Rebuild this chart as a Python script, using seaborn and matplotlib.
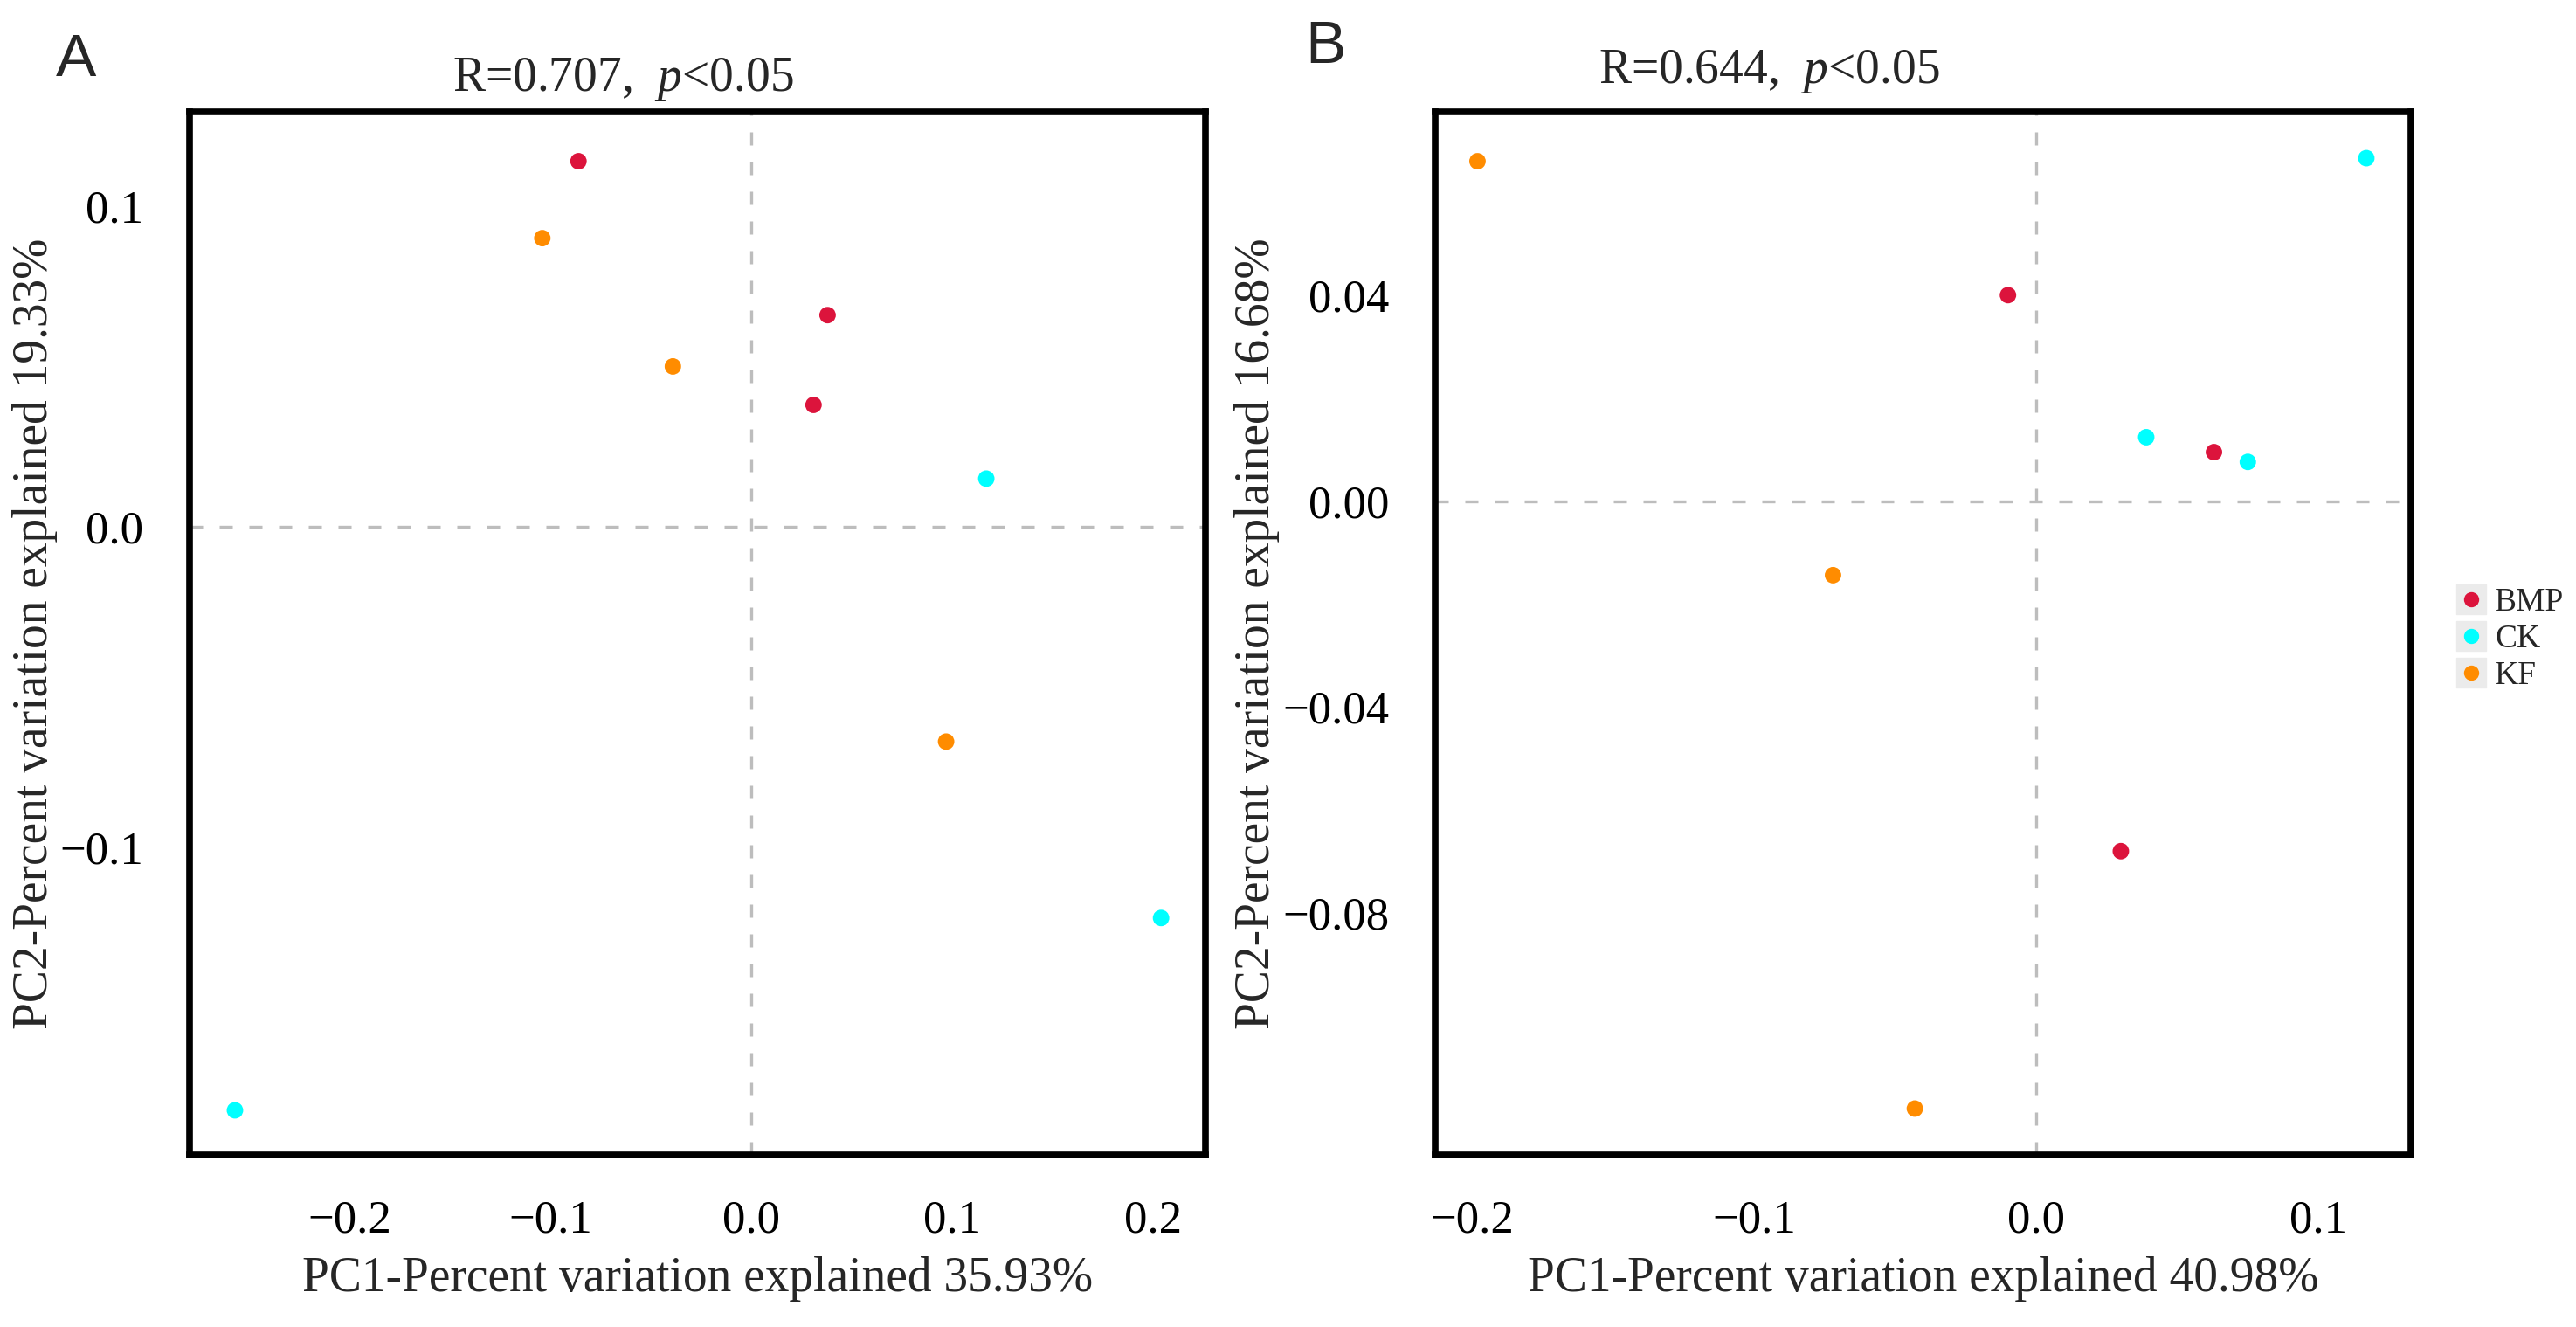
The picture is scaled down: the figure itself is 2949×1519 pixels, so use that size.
import numpy as np
import pandas as pd
import seaborn as sns
import matplotlib.pyplot as plt
from matplotlib.lines import Line2D


sns.set_theme(style='white')
plt.rcParams['font.family'] = ['Liberation Serif', 'DejaVu Serif']
plt.rcParams['mathtext.fontset'] = 'custom'
plt.rcParams['mathtext.rm'] = 'Liberation Serif'
plt.rcParams['mathtext.it'] = 'Liberation Serif:italic'


# groups / colours
groups = ['BMP', 'CK', 'KF']
colors = {'BMP': '#DC143C', 'CK': '#00FFFF', 'KF': '#FF8C00'}

# Panel A (PCoA scores)
a_group = ['BMP', 'BMP', 'BMP', 'CK', 'CK', 'CK', 'KF', 'KF', 'KF']
a_pc1 = [-0.086, 0.038, 0.031, 0.117, 0.204, -0.257, -0.104, -0.039, 0.097]
a_pc2 = [0.114, 0.066, 0.038, 0.015, -0.122, -0.182, 0.090, 0.050, -0.067]

# Panel B (PCoA scores)
b_group = ['BMP', 'BMP', 'BMP', 'CK', 'CK', 'CK', 'KF', 'KF', 'KF']
b_pc1 = [-0.010, 0.063, 0.030, 0.117, 0.039, 0.075, -0.198, -0.072, -0.043]
b_pc2 = [0.040, 0.0095, -0.068, 0.0666, 0.0124, 0.0076, 0.066, -0.0144, -0.118]

dfA = pd.DataFrame({'PC1': a_pc1, 'PC2': a_pc2, 'group': a_group})
dfB = pd.DataFrame({'PC1': b_pc1, 'PC2': b_pc2, 'group': b_group})

a_xticks = [-0.2, -0.1, 0.0, 0.1, 0.2]
a_yticks = [0.1, 0.0, -0.1]
a_yticklabels = ['0.1', '0.0', '\u22120.1']
b_xticks = [-0.2, -0.1, 0.0, 0.1]
b_yticks = [0.04, 0.00, -0.04, -0.08, -0.12]
b_yticklabels = ['0.04', '0.00', '\u22120.04', '\u22120.08', '']


W, H = 2949, 1519
fig = plt.figure(figsize=(W / 100, H / 100), dpi=100)

axA = fig.add_axes([217 / W, 1 - 1322 / H, (1380 - 217) / W, (1322 - 128) / H])
axB = fig.add_axes([1643 / W, 1 - 1322 / H, (2760 - 1643) / W, (1322 - 128) / H])


def panel(ax, data, xlim, ylim, xticks, yticks, yticklabels, xlabel, ylabel):
    ax.axhline(0, color='#BDBDBD', lw=2.4, dashes=(4.5, 5.7), zorder=1)
    ax.axvline(0, color='#BDBDBD', lw=2.4, dashes=(4.5, 5.7), zorder=1)
    sns.scatterplot(data=data, x='PC1', y='PC2', hue='group', hue_order=groups,
                    palette=colors, s=185, linewidth=0, legend=False, ax=ax, zorder=3)
    ax.set_xlim(xlim)
    ax.set_ylim(ylim)
    ax.set_xticks(xticks)
    ax.set_yticks(yticks)
    ax.set_yticklabels(yticklabels)
    ax.set_xlabel(xlabel, fontsize=40, labelpad=12)
    ax.set_ylabel(ylabel, fontsize=40, labelpad=2)
    for sp in ax.spines.values():
        sp.set_visible(True)
        sp.set_linewidth(5.5)
        sp.set_color('black')
    ax.tick_params(axis='both', which='major', direction='out', length=11, width=2,
                   color='#555555', labelsize=38, labelcolor='black')
    ax.tick_params(axis='x', pad=26)
    ax.tick_params(axis='y', pad=27)
    ax.grid(False)


panel(axA, dfA, (-0.2796, 0.2261), (-0.1959, 0.1294), a_xticks, a_yticks, a_yticklabels,
      'PC1-Percent variation explained 35.93%', 'PC2-Percent variation explained 19.33%')
panel(axB, dfB, (-0.213, 0.1328), (-0.127, 0.0756), b_xticks, b_yticks, b_yticklabels,
      'PC1-Percent variation explained 40.98%', 'PC2-Percent variation explained 16.68%')

# titles
fig.text(713 / W, 1 - 104 / H, r'R=0.707,  $\it{p}$<0.05', fontsize=40, ha='center', va='baseline')
fig.text(2025 / W, 1 - 95 / H, r'R=0.644,  $\it{p}$<0.05', fontsize=40, ha='center', va='baseline')

# panel letters
fig.text(64 / W, 1 - 87 / H, 'A', fontsize=50, family='Liberation Sans', ha='left', va='baseline')
fig.text(1494 / W, 1 - 72 / H, 'B', fontsize=50, family='Liberation Sans', ha='left', va='baseline')

# legend with grey key boxes
handles = []
for g in groups:
    box = Line2D([], [], marker='s', ms=25, color='#EBEBEB', ls='')
    dot = Line2D([], [], marker='o', ms=12.5, color=colors[g], mec='none', ls='')
    handles.append((box, dot))
fig.legend(handles, groups, loc='center left', bbox_to_anchor=(2812 / W, 1 - 732 / H),
           frameon=False, fontsize=27, borderpad=0, borderaxespad=0,
           handlelength=0.93, handletextpad=0.25, labelspacing=0.2)

fig.savefig('out.png', dpi=100)
